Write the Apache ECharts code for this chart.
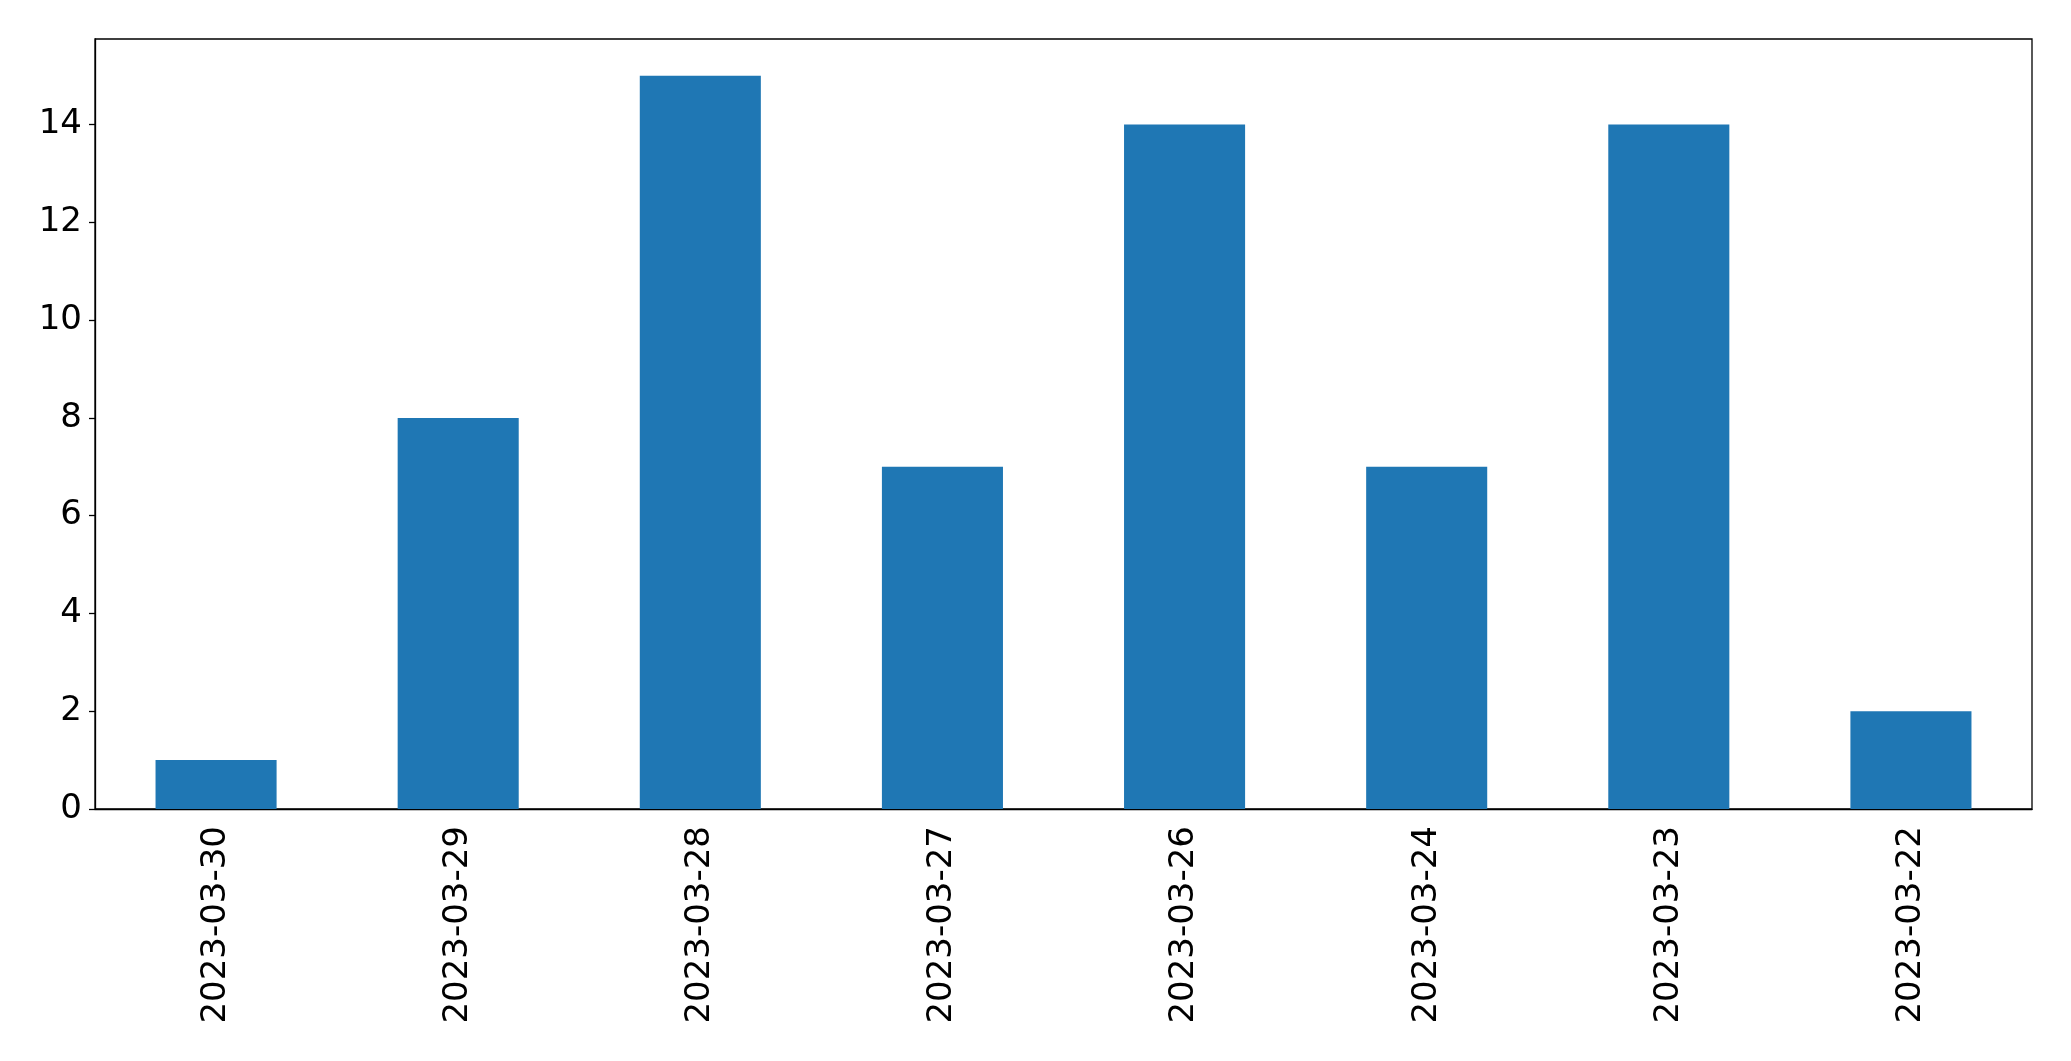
<!DOCTYPE html>
<html>
<head>
<meta charset="utf-8">
<script src="https://cdn.jsdelivr.net/npm/echarts@6/dist/echarts.min.js"></script>
<style>html,body{margin:0;padding:0;background:#fff}#c{width:2071px;height:1061px}</style>
</head>
<body>
<div id="c"></div>
<script>
const categories = ['2023-03-30','2023-03-29','2023-03-28','2023-03-27','2023-03-26','2023-03-24','2023-03-23','2023-03-22'];
const values = [1, 8, 15, 7, 14, 7, 14, 2];
const yTicks = [0, 2, 4, 6, 8, 10, 12, 14];

const chart = echarts.init(document.getElementById('c'));
chart.setOption({
  animation: false,
  backgroundColor: '#fff',
  grid: { left: 95, top: 39, right: 39, bottom: 252, show: true, borderColor: '#000', borderWidth: 1.3, backgroundColor: 'transparent', containLabel: false },
  xAxis: {
    type: 'category',
    data: categories,
    axisLine: { lineStyle: { color: '#000', width: 1.3 } },
    axisTick: { alignWithLabel: true, length: 6, lineStyle: { color: '#000', width: 1.3 } },
    axisLabel: { rotate: 90, margin: 17, fontSize: 34, color: '#000', fontFamily: 'DejaVu Sans', interval: 0 },
    splitLine: { show: false }
  },
  yAxis: {
    type: 'value',
    min: 0, max: 15.75, interval: 2,
    axisLine: { show: true, lineStyle: { color: '#000', width: 1.3 } },
    axisTick: { show: true, length: 6, lineStyle: { color: '#000', width: 1.3 }, customValues: yTicks },
    axisLabel: { margin: 13, fontSize: 34, color: '#000', fontFamily: 'DejaVu Sans', customValues: yTicks },
    splitLine: { show: false }
  },
  series: [{
    type: 'bar',
    data: values,
    barWidth: '50%',
    itemStyle: { color: '#1f77b4' }
  }]
});
</script>
</body>
</html>
